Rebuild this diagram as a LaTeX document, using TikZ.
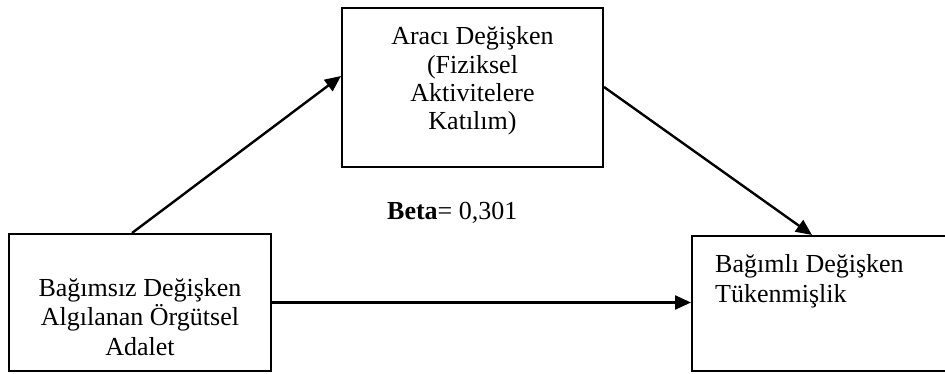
\documentclass[tikz,border=0pt]{standalone}
\usepackage{fontspec}
\setmainfont{Liberation Serif}
\usetikzlibrary{arrows.meta}
\begin{document}
\begin{tikzpicture}[x=1pt,y=-1pt,
  box/.style={draw=black,line width=2pt,minimum width=#1,inner sep=0pt},
  txt/.style={inner sep=0pt,font={\fontsize{26}{#1}\selectfont}},
  arr/.style={draw=black,line width=2.4pt,-{Triangle[length=16pt,width=14pt]}}]
\useasboundingbox (0,0) rectangle (945,374);
\fill[white] (0,0) rectangle (945,374);
% boxes
\node[box=262pt,minimum height=137pt] (lbox) at (140,302.5) {};
\node[box=261pt,minimum height=159pt] (tbox) at (472.5,87.5) {};
\node[box=278pt,minimum height=135pt] (rbox) at (831,303.5) {};
% texts
\node[txt=29.5pt,anchor=base] (ltext) at (140,296)
  {\begin{tabular}[t]{@{}c@{}}Bağımsız Değişken\\Algılanan Örgütsel\\Adalet\end{tabular}};
\node[txt=28.3pt,anchor=base] (ttext) at (472.5,45)
  {\begin{tabular}[t]{@{}c@{}}Aracı Değişken\\(Fiziksel\\Aktivitelere\\Katılım)\end{tabular}};
\node[txt=31pt,anchor=base west] (rtext) at (715,272)
  {\begin{tabular}[t]{@{}l@{}}Bağımlı Değişken\\Tükenmişlik\end{tabular}};
\node[txt=30pt,anchor=base west] (beta) at (387,219) {\textbf{Beta}= 0,301};
% connectors
\draw[arr] ([xshift=124pt]lbox.north west) -- ([yshift=-69pt]tbox.north west);
\draw[arr] ([yshift=-80pt]tbox.north east) -- ([xshift=121pt]rbox.north west);
\draw[arr] (lbox.east) -- (lbox.east -| rbox.west);
\end{tikzpicture}
\end{document}
